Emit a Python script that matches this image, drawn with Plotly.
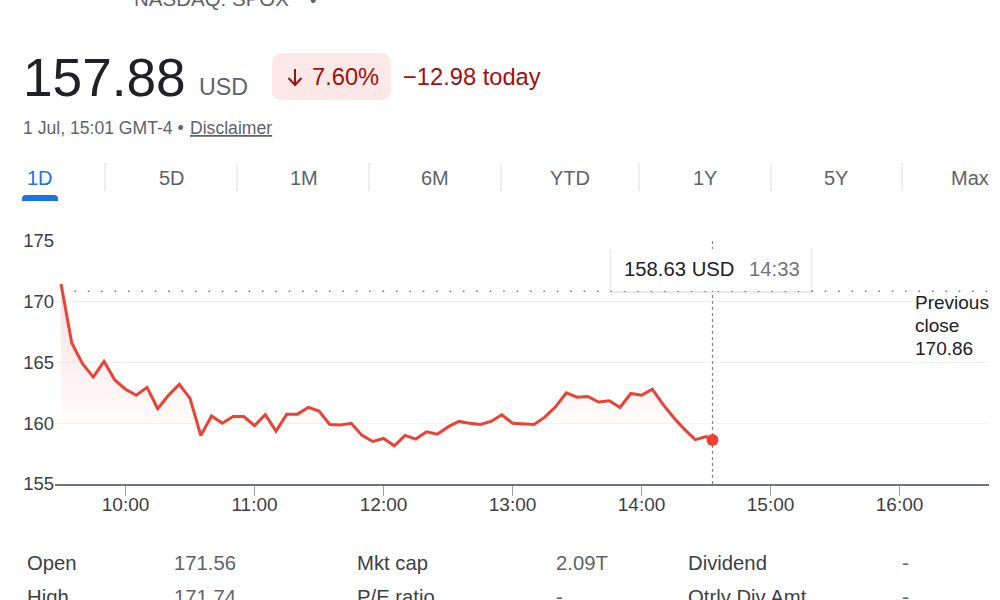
import plotly.graph_objects as go

# intraday prices, 5 minute steps plus the last tick
times = [
    "09:30", "09:35", "09:40", "09:45", "09:50", "09:55", "10:00", "10:05", "10:10", "10:15", "10:20",
    "10:25", "10:30", "10:35", "10:40", "10:45", "10:50", "10:55", "11:00", "11:05", "11:10", "11:15",
    "11:20", "11:25", "11:30", "11:35", "11:40", "11:45", "11:50", "11:55", "12:00", "12:05", "12:10",
    "12:15", "12:20", "12:25", "12:30", "12:35", "12:40", "12:45", "12:50", "12:55", "13:00", "13:05",
    "13:10", "13:15", "13:20", "13:25", "13:30", "13:35", "13:40", "13:45", "13:50", "13:55", "14:00",
    "14:05", "14:10", "14:15", "14:20", "14:25", "14:30", "14:33",
]
prices = [
    171.46, 166.6, 164.9, 163.8, 165.1, 163.56, 162.8, 162.3, 162.95, 161.2, 162.3,
    163.2, 162.05, 159.0, 160.6, 160.0, 160.55, 160.55, 159.8, 160.7, 159.35, 160.75,
    160.75, 161.3, 161.0, 159.9, 159.85, 160.0, 159.0, 158.5, 158.75, 158.15, 159.0,
    158.7, 159.3, 159.1, 159.7, 160.15, 160.0, 159.9, 160.15, 160.7, 160.0, 159.97,
    159.9, 160.5, 161.35, 162.5, 162.15, 162.2, 161.75, 161.85, 161.3, 162.45, 162.3,
    162.8, 161.55, 160.45, 159.5, 158.65, 158.9, 158.63,
]
prev_close = 170.86
hour_ticks = ["10:00", "11:00", "12:00", "13:00", "14:00", "15:00", "16:00"]
price_ticks = [155, 160, 165, 170, 175]

tabs = ["1D", "5D", "1M", "6M", "YTD", "1Y", "5Y", "Max"]
tab_x = [40, 172, 304, 435, 570, 705, 836, 970]
tab_seps = [105, 237, 369, 501, 639, 771, 902]

stats = [
    ("Open", 27, 563, "#3c4043"), ("171.56", 174, 563, "#5f6368"),
    ("Mkt cap", 357, 563, "#3c4043"), ("2.09T", 556, 563, "#5f6368"),
    ("Dividend", 688, 563, "#3c4043"), ("-", 902, 563, "#5f6368"),
    ("High", 27, 597, "#3c4043"), ("171.74", 174, 597, "#5f6368"),
    ("P/E ratio", 357, 597, "#3c4043"), ("-", 556, 597, "#5f6368"),
    ("Qtrly Div Amt", 688, 597, "#3c4043"), ("-", 902, 597, "#5f6368"),
]

DAY = "2024-07-01 "
FONT = "Liberation Sans"
RED = "#ea4335"
DARK_RED = "#a50e0e"
GREY = "#5f6368"

# plot box in page pixels
LEFT, RIGHT, TOP, BOTTOM = 55, 989, 241, 484


def px(x):
    return (x - LEFT) / (RIGHT - LEFT)


def py(y):
    return (BOTTOM - y) / (BOTTOM - TOP)


x_vals = [DAY + t for t in times]

fig = go.Figure()

# red line with the faded area under it
fig.add_trace(go.Scatter(
    x=x_vals, y=prices, mode="lines",
    line=dict(color=RED, width=3),
    fill="tozeroy",
    fillgradient=dict(
        type="vertical", start=171.5, stop=159,
        colorscale=[[0, "rgba(234,67,53,0.17)"], [1, "rgba(234,67,53,0)"]],
    ),
    hoverinfo="skip",
))
# previous close
fig.add_trace(go.Scatter(
    x=[x_vals[0], DAY + "16:41"], y=[prev_close, prev_close], mode="lines",
    line=dict(color="#70757a", width=1.5, dash="1.5px,11.9px"),
    hoverinfo="skip",
))
# crosshair
fig.add_trace(go.Scatter(
    x=[x_vals[-1], x_vals[-1]], y=[price_ticks[0], price_ticks[-1]], mode="lines",
    line=dict(color="#80868b", width=1.2, dash="3px,3px"),
    hoverinfo="skip",
))
fig.add_trace(go.Scatter(
    x=[x_vals[-1]], y=[prices[-1]], mode="markers",
    marker=dict(color=RED, size=12),
    hoverinfo="skip",
))


def label(text, x, y, size, color, anchor="left", **font_extra):
    # annotations keep a small inner padding, so left aligned text starts 2px late
    left = x - 2 if anchor == "left" else x
    fig.add_annotation(
        text=text, x=px(left), y=py(y), xref="paper", yref="paper",
        xanchor=anchor, yanchor="middle", showarrow=False,
        font=dict(family=FONT, size=size, color=color, **font_extra),
    )


def box(x0, y0, x1, y1, fill, line=None, width=0):
    fig.add_shape(
        type="rect", xref="paper", yref="paper",
        x0=px(x0), x1=px(x1), y0=py(y0), y1=py(y1),
        fillcolor=fill, line=dict(color=line, width=width), layer="above",
    )


def rounded(x0, y0, x1, y1, r, fill):
    path = (
        f"M {px(x0 + r)} {py(y0)} L {px(x1 - r)} {py(y0)} Q {px(x1)} {py(y0)} {px(x1)} {py(y0 + r)} "
        f"L {px(x1)} {py(y1 - r)} Q {px(x1)} {py(y1)} {px(x1 - r)} {py(y1)} "
        f"L {px(x0 + r)} {py(y1)} Q {px(x0)} {py(y1)} {px(x0)} {py(y1 - r)} "
        f"L {px(x0)} {py(y0 + r)} Q {px(x0)} {py(y0)} {px(x0 + r)} {py(y0)} Z"
    )
    fig.add_shape(type="path", xref="paper", yref="paper", path=path,
                  fillcolor=fill, line=dict(width=0), layer="below")


# header
label("NASDAQ: SPOX", 134, -2, 20.5, GREY)
label("•", 313, 1, 18, GREY, anchor="center")
label("157.88", 23, 77, 53.2, "#202124")
label("USD", 199, 87, 23.2, GREY)
rounded(272, 53, 391, 100, 11, "#fce8e6")
# down arrow in the badge
fig.add_shape(
    type="path", xref="paper", yref="paper",
    path=(f"M {px(295)} {py(69)} L {px(295)} {py(85)} "
          f"M {px(288.5)} {py(78)} L {px(295)} {py(85)} L {px(301.5)} {py(78)}"),
    line=dict(color=DARK_RED, width=2),
)
label("7.60%", 312, 77, 23.7, DARK_RED)
label("−12.98 today", 403, 77, 23.7, DARK_RED)
label("1 Jul, 15:01 GMT-4 • ", 23, 128, 17.6, GREY)
label("Disclaimer", 190, 128, 17.6, GREY, lineposition="under")

# range tabs
for name, x in zip(tabs, tab_x):
    label(name, x, 178, 20, "#1a73e8" if name == "1D" else GREY, anchor="center")
for x in tab_seps:
    fig.add_shape(type="line", xref="paper", yref="paper", x0=px(x), x1=px(x),
                  y0=py(163), y1=py(191), line=dict(color="#dadce0", width=1))
rounded(22, 195, 58, 205, 4, "#1a73e8")
box(20, 201, 60, 206, "white")

# tooltip, layered boxes stand in for the soft shadow
box(609, 249, 813, 294, "rgba(60,64,67,0.04)")
box(610, 249, 812, 293, "rgba(60,64,67,0.07)")
box(611, 249, 811, 291, "white")
label("158.63 USD", 624, 269, 20.3, "#202124")
label("14:33", 749, 269, 20.3, "#70757a")

label("Previous", 915, 302, 19, "#202124")
label("close", 915, 325, 19, "#202124")
label("170.86", 915, 348, 19, "#202124")

for text, x, y, color in stats:
    label(text, x, y, 20.3, color)

fig.update_layout(
    width=1000, height=600,
    margin=dict(l=LEFT, r=1000 - RIGHT, t=TOP, b=600 - BOTTOM),
    paper_bgcolor="white", plot_bgcolor="white",
    showlegend=False,
    font=dict(family=FONT),
    xaxis=dict(
        range=[DAY + "09:27:12", DAY + "16:41:36"],
        tickvals=[DAY + t for t in hour_ticks], ticktext=hour_ticks,
        showgrid=False, zeroline=False,
        showline=True, linecolor="#70757a", linewidth=1.5,
        ticks="outside", ticklen=10, tickwidth=1, tickcolor="#9aa0a6",
        ticklabelstandoff=-8,
        tickfont=dict(family=FONT, size=19, color="#3c4043"),
    ),
    yaxis=dict(
        range=[price_ticks[0], price_ticks[-1]],
        tickvals=price_ticks,
        showgrid=True, gridcolor="#f1f3f4", gridwidth=1, zeroline=False,
        showline=False, ticks="",
        tickfont=dict(family=FONT, size=18.5, color="#3c4043"),
    ),
)

fig.write_html("out.html", post_script="document.body.style.margin='0';",
               config=dict(displayModeBar=False))
